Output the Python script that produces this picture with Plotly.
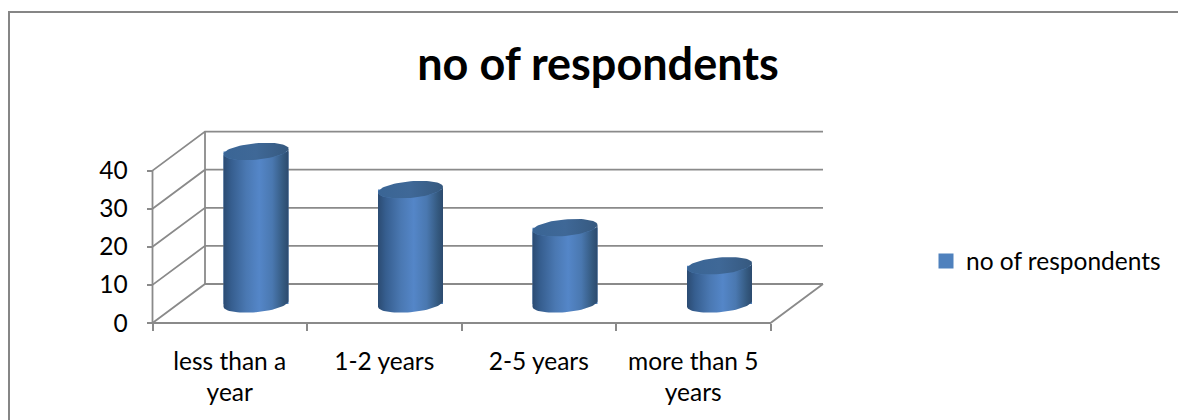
import numpy as np
import plotly.graph_objects as go

# ---- data ----
categories = ["less than a<br>year", "1-2 years", "2-5 years", "more than 5<br>years"]
values = [40, 30, 20, 10]
series_name = "no of respondents"
y_ticks = [0, 10, 20, 30, 40]

# ---- geometry of the page -> axis calibration ----
W, H = 1178, 420
PX_X = 154.5     # px per category
PX_Y = 3.81      # px per value unit
X0 = 152.5       # px of left wall front edge
Y0 = 323.0       # px of value 0 on the front edge
DX, DY = 52.5 / PX_X, 39.0 / PX_Y   # depth offset in axis units
GRID = "#8a8a8a"

x_lo = -0.5 - X0 / PX_X
x_hi = x_lo + W / PX_X
y_lo = -(H - Y0) / PX_Y
y_hi = y_lo + H / PX_Y

n = len(categories)
idx = list(range(n))
left, right = -0.5, n - 0.5
top = max(y_ticks)

fig = go.Figure()


def gline(xs, ys, width=1.8):
    fig.add_trace(go.Scatter(x=xs, y=ys, mode="lines", showlegend=False, hoverinfo="skip",
                             line=dict(color=GRID, width=width)))


# back wall gridlines with left side wall
for t in y_ticks:
    gline([left, left + DX, right + DX], [t, t + DY, t + DY])
# left front edge, back left edge, floor
gline([left, left], [0, top])
gline([left + DX, left + DX], [DY, top + DY])
gline([left, right, right + DX], [0, 0, DY])

# real bars from the data (covered by the shaded cylinders)
A = 32.5 / PX_X            # ellipse half width
B = 8.3 / PX_Y             # ellipse half height
TILT = 2.8 / PX_Y          # ellipse tilt
cx_shift = DX / 2
cy_shift = 0.49 * DY
fig.add_trace(go.Bar(x=[i + cx_shift for i in idx], y=values, base=cy_shift, width=2 * A,
                     name=series_name, showlegend=False, marker=dict(color="#4f81bd", line=dict(width=0)),
                     hovertemplate="%{y}<extra></extra>"))
# legend key
fig.add_trace(go.Scatter(x=[None], y=[None], mode="markers", name=series_name, hoverinfo="skip",
                         marker=dict(symbol="square", size=15, color="#4f81bd")))

t = np.linspace(0, 2 * np.pi, 73)
body_scale = [[0, "#2b4b72"], [0.12, "#365e8f"], [0.35, "#4a78b2"], [0.55, "#5486c8"],
              [0.75, "#4a78b0"], [0.92, "#34597f"], [1, "#2c4a6e"]]
top_scale = [[0, "#3a6595"], [0.5, "#3f6897"], [1, "#36597f"]]

for i, v in zip(idx, values):
    cx = i + cx_shift
    base_y, top_y = cy_shift, cy_shift + v
    # body outline: lower half of base ellipse, then straight up to the top ellipse
    tb = np.linspace(np.pi, 0, 37)  # from left to right through the bottom
    bx = cx + A * np.cos(tb)
    by = base_y - B * np.sin(tb) + TILT * np.cos(tb)
    tt = np.linspace(0, np.pi, 37)
    ux = cx + A * np.cos(tt)
    uy = top_y - B * np.sin(tt) + TILT * np.cos(tt)
    fig.add_trace(go.Scatter(x=np.r_[bx, ux], y=np.r_[by, uy], mode="lines", fill="toself",
                             line=dict(width=0), showlegend=False, hoverinfo="skip",
                             fillgradient=dict(type="horizontal", colorscale=body_scale)))
    # top cap
    fig.add_trace(go.Scatter(x=cx + A * np.cos(t), y=top_y + B * np.sin(t) + TILT * np.cos(t),
                             mode="lines", fill="toself", line=dict(width=0), showlegend=False,
                             hoverinfo="skip",
                             fillgradient=dict(type="horizontal", colorscale=top_scale)))

font = "Lato, Carlito, Calibri, sans-serif"
fig.update_layout(
    width=W, height=H, margin=dict(l=0, r=0, t=0, b=0),
    paper_bgcolor="white", plot_bgcolor="white",
    font=dict(family=font, color="#000000", size=24),
    title=dict(text="<b>no of respondents</b>", font=dict(size=45, family=font),
               x=598 / W, xanchor="center", y=1 - 64 / H, yanchor="middle"),
    barmode="overlay",
    showlegend=True,
    legend=dict(x=926 / W, y=1 - 261 / H, xanchor="left", yanchor="middle",
                font=dict(size=24.5), itemwidth=30, bgcolor="rgba(0,0,0,0)"),
    xaxis=dict(range=[x_lo, x_hi], domain=[0, 1], showgrid=False, zeroline=False, showline=False,
               anchor="free", position=(H - Y0) / H,
               tickmode="array", tickvals=idx, ticktext=categories, ticks="", ticklen=0,
               ticklabelstandoff=21,
               tickfont=dict(size=24.5),
               minor=dict(tickmode="array", tickvals=[j - 0.5 for j in range(n + 1)],
                          ticks="outside", ticklen=7, tickcolor=GRID, tickwidth=1.8)),
    yaxis=dict(range=[y_lo, y_hi], domain=[0, 1], showgrid=False, zeroline=False, showline=False,
               anchor="free", position=X0 / W,
               tickmode="array", tickvals=y_ticks, ticks="outside", ticklen=6,
               ticklabelstandoff=14,
               tickcolor=GRID, tickwidth=1.8, tickfont=dict(size=24.5)),
    shapes=[dict(type="rect", xref="paper", yref="paper", x0=9 / W, x1=1190 / W, y0=-20 / H, y1=1 - 12 / H,
                 line=dict(color="#868686", width=2), fillcolor="rgba(0,0,0,0)", layer="below")],
)
fig.write_html("out.html", config={"displayModeBar": False},
               post_script="document.body.style.margin='0';document.documentElement.style.overflow='hidden';")
